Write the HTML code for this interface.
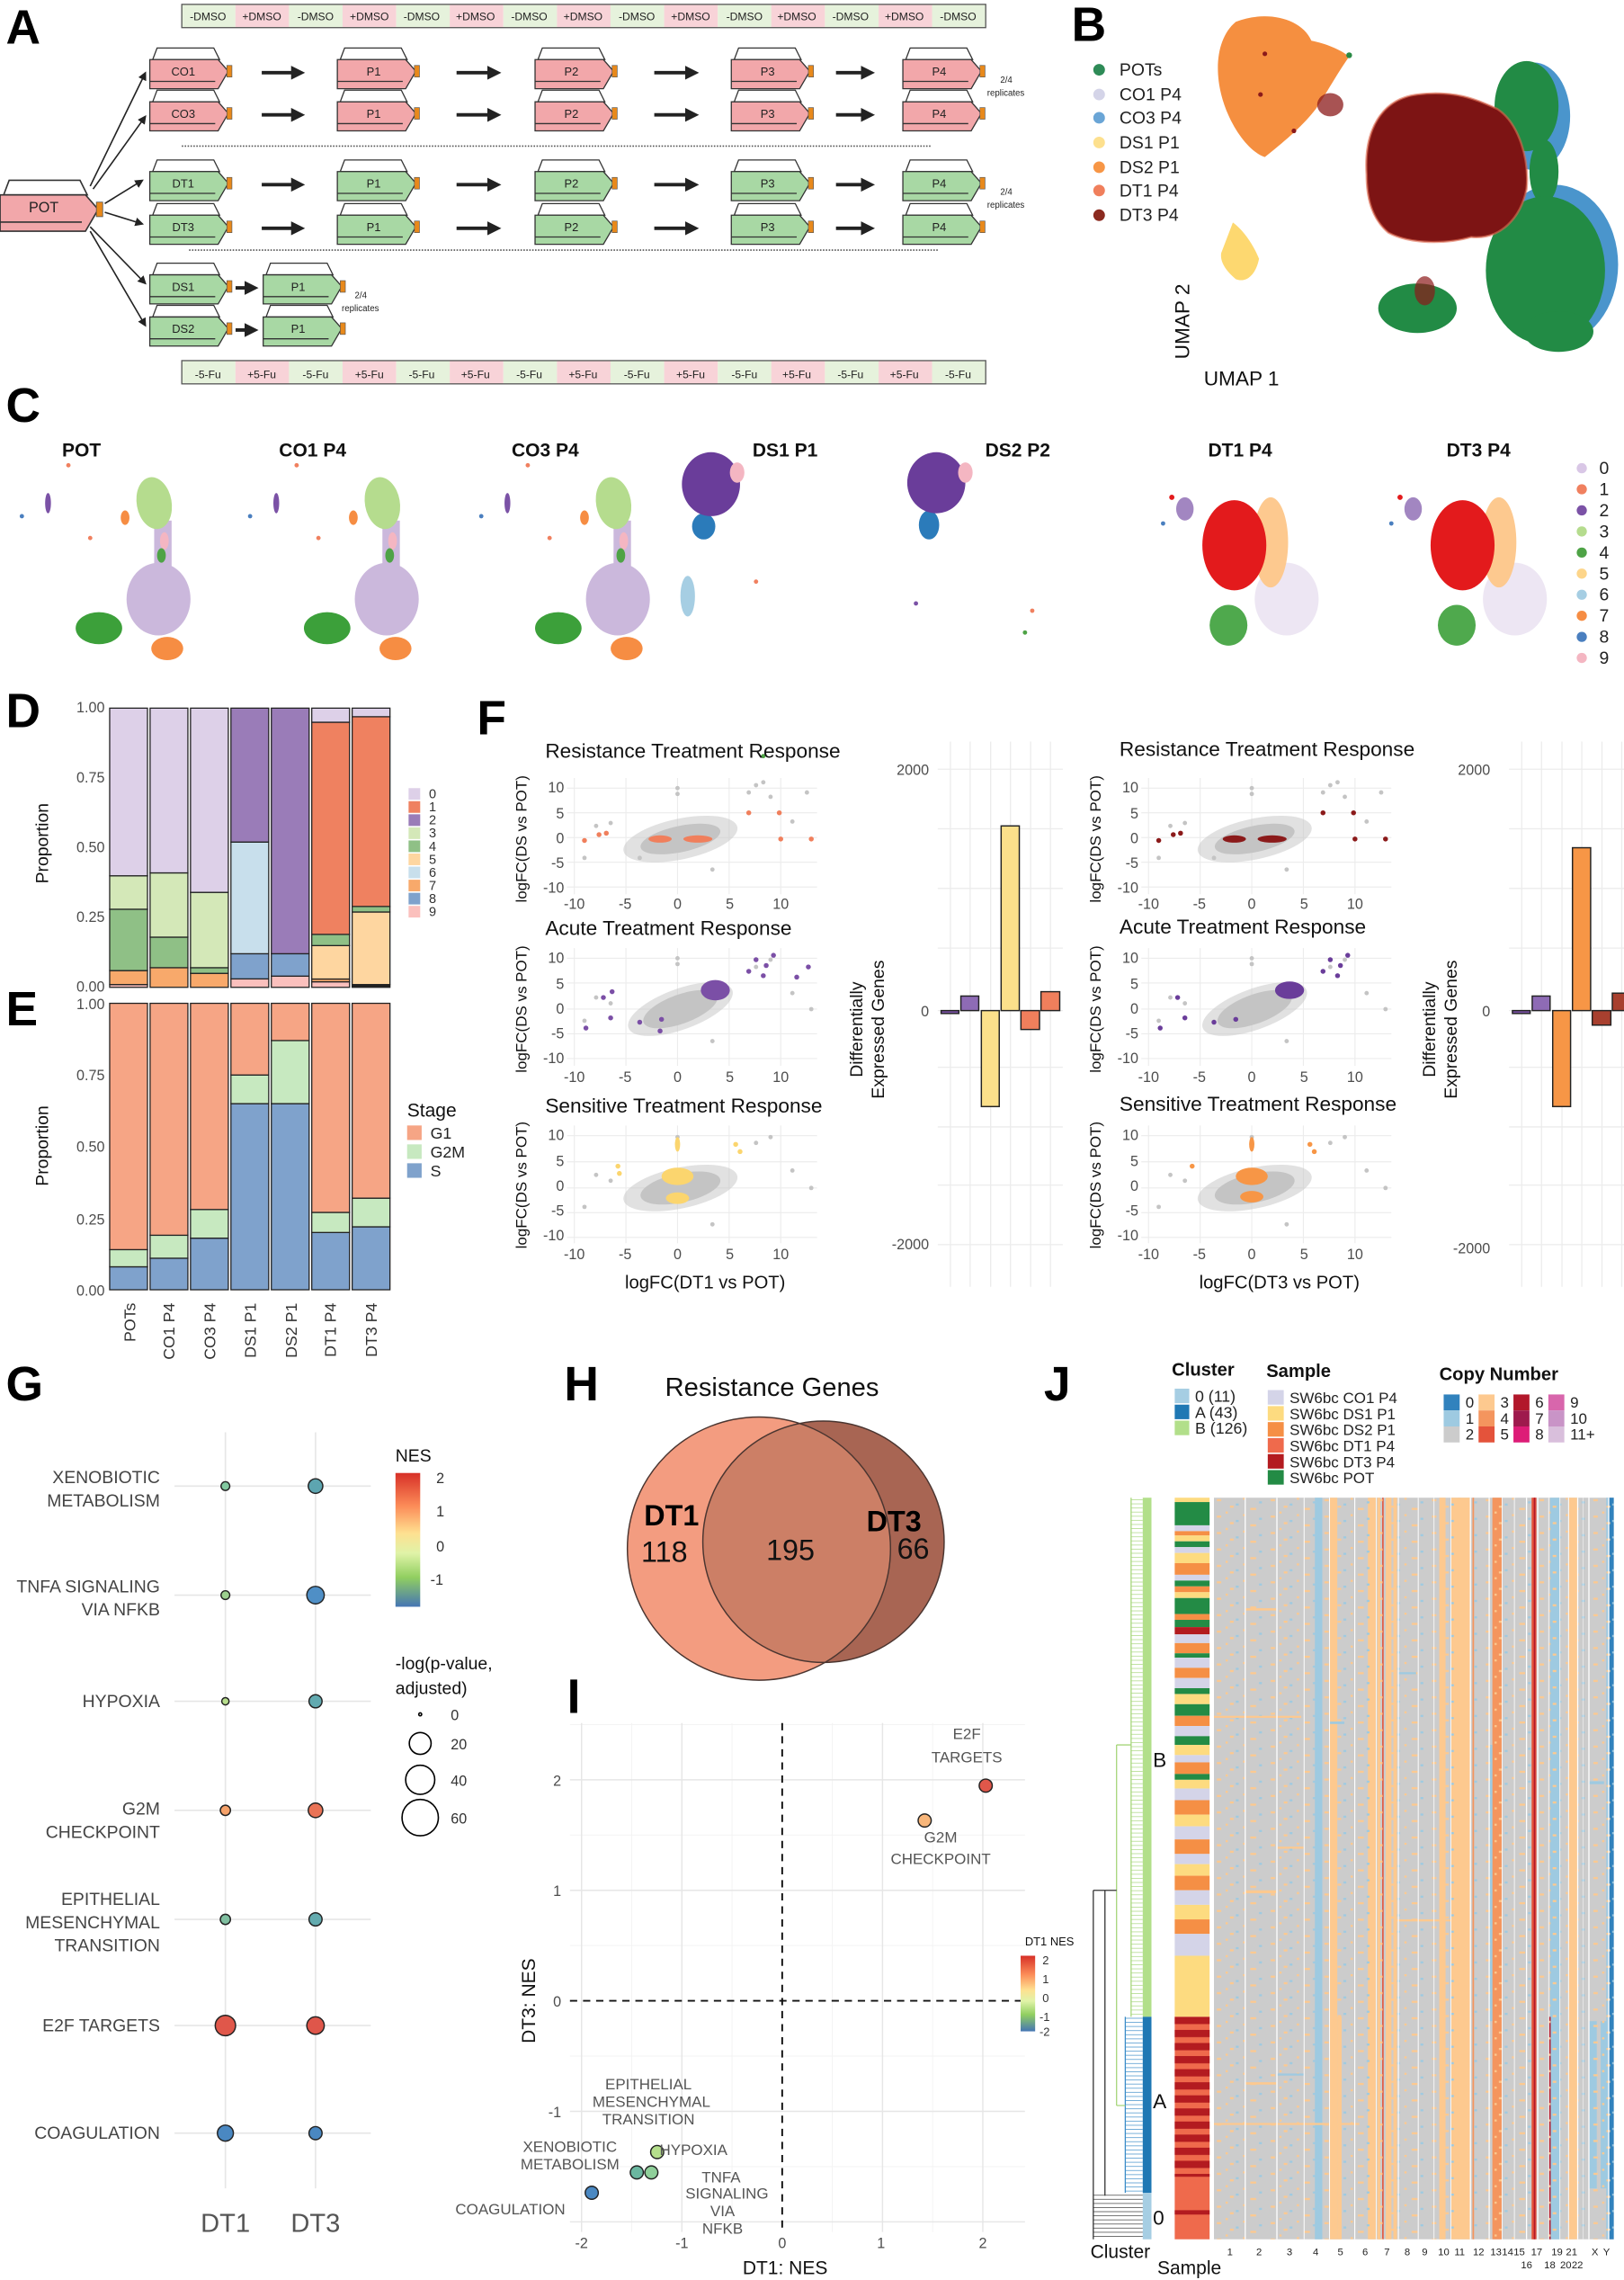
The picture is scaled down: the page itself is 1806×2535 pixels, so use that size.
<!DOCTYPE html>
<html><head><meta charset="utf-8">
<style>
html,body{margin:0;padding:0;background:#fff;}
svg{display:block;font-family:"Liberation Sans",Arial,sans-serif;}
.L{font-size:33px;font-weight:bold;fill:#000;}
.t{font-size:10px;fill:#4d4d4d;}
</style></head>
<body>
<svg xmlns="http://www.w3.org/2000/svg" xmlns:xlink="http://www.w3.org/1999/xlink" width="1806" height="2535" viewBox="0 0 1117 1568">
<defs>
<marker id="ah" markerWidth="6" markerHeight="6" refX="5" refY="3" orient="auto"><path d="M0,0 L6,3 L0,6 z" fill="#222"/></marker>
<marker id="ah2" markerWidth="4" markerHeight="4" refX="2" refY="2" orient="auto"><path d="M0,0 L4,2 L0,4 z" fill="#222"/></marker>
<linearGradient id="nes" x1="0" y1="0" x2="0" y2="1">
<stop offset="0" stop-color="#d73027"/><stop offset="0.25" stop-color="#fc8d59"/><stop offset="0.45" stop-color="#fee090"/><stop offset="0.6" stop-color="#e0f3a8"/><stop offset="0.78" stop-color="#91cf60"/><stop offset="1" stop-color="#4575b4"/></linearGradient>
<clipPath id="cl"><circle cx="522" cy="1065" r="90.5"/></clipPath>
<g id="fk">
<polygon points="2,8 5,0 44,0 48,8" fill="#fff" stroke="#333" stroke-width=".8"/>
<polygon points="0,8 47,8 54,16 47,28 0,28" stroke="#333" stroke-width=".8"/>
<line x1="0" y1="23" x2="45" y2="23" stroke="#333" stroke-width=".8"/>
<rect x="53" y="12" width="3.5" height="8" fill="#e8891b" stroke="#555" stroke-width=".4"/>
</g>
<pattern id="sp" x="835" y="1030" width="37" height="11.3" patternUnits="userSpaceOnUse">
<rect x="2" y="1" width="3" height="1.4" fill="#fdc98f"/><rect x="15" y="4" width="2" height="1.4" fill="#9ecae1"/><rect x="25" y="7" width="4" height="1.4" fill="#fdc98f"/><rect x="8" y="9.5" width="1.5" height="1.4" fill="#fdc98f"/><rect x="31" y="2.5" width="2" height="1.4" fill="#9ecae1"/><rect x="20" y="0" width="1.5" height="1.4" fill="#fdc98f"/><rect x="11" y="5.5" width="2.5" height="1.4" fill="#fdc98f"/>
</pattern>
<pattern id="rs" x="808" y="1387" width="24" height="9" patternUnits="userSpaceOnUse"><rect width="24" height="5" fill="#b31b20"/></pattern>
<pattern id="lvG" x="0" y="1030" width="10" height="2.83" patternUnits="userSpaceOnUse"><line x1="0" y1="1.4" x2="10" y2="1.4" stroke="#a6d67a" stroke-width=".4"/></pattern>
<pattern id="lvB" x="0" y="1030" width="10" height="2.83" patternUnits="userSpaceOnUse"><line x1="0" y1="1.4" x2="10" y2="1.4" stroke="#3a8cc8" stroke-width=".4"/></pattern>
<pattern id="lvK" x="0" y="1030" width="40" height="2.83" patternUnits="userSpaceOnUse"><line x1="0" y1="1.4" x2="40" y2="1.4" stroke="#333" stroke-width=".4"/></pattern>
</defs>
<rect width="1117" height="1568" fill="#fff"/>

<!-- Panel A -->
<text class="L" x="4" y="30">A</text>
<g>
<rect x="125" y="3" width="36.9" height="16" fill="#e6f2dc"/><rect x="161.9" y="3" width="36.9" height="16" fill="#f8d3d8"/><rect x="198.7" y="3" width="36.9" height="16" fill="#e6f2dc"/><rect x="235.6" y="3" width="36.9" height="16" fill="#f8d3d8"/><rect x="272.5" y="3" width="36.9" height="16" fill="#e6f2dc"/><rect x="309.3" y="3" width="36.9" height="16" fill="#f8d3d8"/><rect x="346.2" y="3" width="36.9" height="16" fill="#e6f2dc"/><rect x="383.1" y="3" width="36.9" height="16" fill="#f8d3d8"/><rect x="419.9" y="3" width="36.9" height="16" fill="#e6f2dc"/><rect x="456.8" y="3" width="36.9" height="16" fill="#f8d3d8"/><rect x="493.7" y="3" width="36.9" height="16" fill="#e6f2dc"/><rect x="530.5" y="3" width="36.9" height="16" fill="#f8d3d8"/><rect x="567.4" y="3" width="36.9" height="16" fill="#e6f2dc"/><rect x="604.3" y="3" width="36.9" height="16" fill="#f8d3d8"/><rect x="641.1" y="3" width="36.9" height="16" fill="#e6f2dc"/>
<rect x="125" y="248" width="36.9" height="16" fill="#e6f2dc"/><rect x="161.9" y="248" width="36.9" height="16" fill="#f8d3d8"/><rect x="198.7" y="248" width="36.9" height="16" fill="#e6f2dc"/><rect x="235.6" y="248" width="36.9" height="16" fill="#f8d3d8"/><rect x="272.5" y="248" width="36.9" height="16" fill="#e6f2dc"/><rect x="309.3" y="248" width="36.9" height="16" fill="#f8d3d8"/><rect x="346.2" y="248" width="36.9" height="16" fill="#e6f2dc"/><rect x="383.1" y="248" width="36.9" height="16" fill="#f8d3d8"/><rect x="419.9" y="248" width="36.9" height="16" fill="#e6f2dc"/><rect x="456.8" y="248" width="36.9" height="16" fill="#f8d3d8"/><rect x="493.7" y="248" width="36.9" height="16" fill="#e6f2dc"/><rect x="530.5" y="248" width="36.9" height="16" fill="#f8d3d8"/><rect x="567.4" y="248" width="36.9" height="16" fill="#e6f2dc"/><rect x="604.3" y="248" width="36.9" height="16" fill="#f8d3d8"/><rect x="641.1" y="248" width="36.9" height="16" fill="#e6f2dc"/>
<rect x="125" y="3" width="553" height="16" fill="none" stroke="#555" stroke-width=".8"/><rect x="125" y="248" width="553" height="16" fill="none" stroke="#555" stroke-width=".8"/>
</g>
<g>
<use href="#fk" x="103" y="33" fill="#f2a7aa"/><use href="#fk" x="232" y="33" fill="#f2a7aa"/><use href="#fk" x="368" y="33" fill="#f2a7aa"/><use href="#fk" x="503" y="33" fill="#f2a7aa"/><use href="#fk" x="621" y="33" fill="#f2a7aa"/>
<use href="#fk" x="103" y="62" fill="#f2a7aa"/><use href="#fk" x="232" y="62" fill="#f2a7aa"/><use href="#fk" x="368" y="62" fill="#f2a7aa"/><use href="#fk" x="503" y="62" fill="#f2a7aa"/><use href="#fk" x="621" y="62" fill="#f2a7aa"/>
<use href="#fk" x="103" y="110" fill="#a8d8a4"/><use href="#fk" x="232" y="110" fill="#a8d8a4"/><use href="#fk" x="368" y="110" fill="#a8d8a4"/><use href="#fk" x="503" y="110" fill="#a8d8a4"/><use href="#fk" x="621" y="110" fill="#a8d8a4"/>
<use href="#fk" x="103" y="140" fill="#a8d8a4"/><use href="#fk" x="232" y="140" fill="#a8d8a4"/><use href="#fk" x="368" y="140" fill="#a8d8a4"/><use href="#fk" x="503" y="140" fill="#a8d8a4"/><use href="#fk" x="621" y="140" fill="#a8d8a4"/>
<use href="#fk" x="103" y="181" fill="#a8d8a4"/><use href="#fk" x="181" y="181" fill="#a8d8a4"/>
<use href="#fk" x="103" y="210" fill="#a8d8a4"/><use href="#fk" x="181" y="210" fill="#a8d8a4"/>
<use href="#fk" transform="translate(0 124) scale(1.25)" fill="#f2a7aa"/>
</g>
<g stroke="#222" stroke-width="2.4" marker-end="url(#ah2)">
<line x1="180" y1="50" x2="205" y2="50"/><line x1="314" y1="50" x2="340" y2="50"/><line x1="450" y1="50" x2="476" y2="50"/><line x1="575" y1="50" x2="597" y2="50"/>
<line x1="180" y1="79" x2="205" y2="79"/><line x1="314" y1="79" x2="340" y2="79"/><line x1="450" y1="79" x2="476" y2="79"/><line x1="575" y1="79" x2="597" y2="79"/>
<line x1="180" y1="127" x2="205" y2="127"/><line x1="314" y1="127" x2="340" y2="127"/><line x1="450" y1="127" x2="476" y2="127"/><line x1="575" y1="127" x2="597" y2="127"/>
<line x1="180" y1="157" x2="205" y2="157"/><line x1="314" y1="157" x2="340" y2="157"/><line x1="450" y1="157" x2="476" y2="157"/><line x1="575" y1="157" x2="597" y2="157"/>
<line x1="162" y1="198" x2="173" y2="198"/><line x1="162" y1="227" x2="173" y2="227"/>
</g>
<g stroke="#222" stroke-width="1" marker-end="url(#ah)">
<line x1="62" y1="128" x2="100" y2="50"/><line x1="64" y1="130" x2="100" y2="80"/><line x1="72" y1="140" x2="98" y2="124"/><line x1="72" y1="146" x2="98" y2="154"/><line x1="62" y1="156" x2="100" y2="195"/><line x1="62" y1="159" x2="100" y2="224"/>
</g>
<g font-size="8" fill="#222" text-anchor="middle">
<text x="126" y="52">CO1</text><text x="257" y="52">P1</text><text x="393" y="52">P2</text><text x="528" y="52">P3</text><text x="646" y="52">P4</text>
<text x="126" y="81">CO3</text><text x="257" y="81">P1</text><text x="393" y="81">P2</text><text x="528" y="81">P3</text><text x="646" y="81">P4</text>
<text x="126" y="129">DT1</text><text x="257" y="129">P1</text><text x="393" y="129">P2</text><text x="528" y="129">P3</text><text x="646" y="129">P4</text>
<text x="126" y="159">DT3</text><text x="257" y="159">P1</text><text x="393" y="159">P2</text><text x="528" y="159">P3</text><text x="646" y="159">P4</text>
<text x="126" y="200">DS1</text><text x="205" y="200">P1</text>
<text x="126" y="229">DS2</text><text x="205" y="229">P1</text>
<text x="30" y="146" font-size="10">POT</text>
</g>
<g font-size="6" fill="#222">
<text x="688" y="57">2/4</text><text x="679" y="66">replicates</text>
<text x="688" y="134">2/4</text><text x="679" y="143">replicates</text>
<text x="244" y="205">2/4</text><text x="235" y="214">replicates</text>
</g>
<g font-size="7.5" fill="#222" text-anchor="middle">
<text x="143" y="14">-DMSO</text><text x="180" y="14">+DMSO</text><text x="217" y="14">-DMSO</text><text x="254" y="14">+DMSO</text><text x="290" y="14">-DMSO</text><text x="327" y="14">+DMSO</text><text x="364" y="14">-DMSO</text><text x="401" y="14">+DMSO</text><text x="438" y="14">-DMSO</text><text x="475" y="14">+DMSO</text><text x="512" y="14">-DMSO</text><text x="548" y="14">+DMSO</text><text x="585" y="14">-DMSO</text><text x="622" y="14">+DMSO</text><text x="659" y="14">-DMSO</text>
<text x="143" y="260">-5-Fu</text><text x="180" y="260">+5-Fu</text><text x="217" y="260">-5-Fu</text><text x="254" y="260">+5-Fu</text><text x="290" y="260">-5-Fu</text><text x="327" y="260">+5-Fu</text><text x="364" y="260">-5-Fu</text><text x="401" y="260">+5-Fu</text><text x="438" y="260">-5-Fu</text><text x="475" y="260">+5-Fu</text><text x="512" y="260">-5-Fu</text><text x="548" y="260">+5-Fu</text><text x="585" y="260">-5-Fu</text><text x="622" y="260">+5-Fu</text><text x="659" y="260">-5-Fu</text>
</g>
<line x1="125" y1="100.5" x2="640" y2="100.5" stroke="#555" stroke-width="1" stroke-dasharray="1,1"/>
<line x1="130" y1="172" x2="646" y2="172" stroke="#555" stroke-width="1" stroke-dasharray="1,1"/>

<!-- Panel B -->
<text class="L" x="737" y="28">B</text>
<g>
<ellipse cx="1069" cy="182" rx="44" ry="55" fill="#4a95cc"/>
<ellipse cx="1055" cy="80" rx="25" ry="37" fill="#4a95cc"/>
<ellipse cx="1050" cy="73" rx="22" ry="31" fill="#228b45"/>
<ellipse cx="1062" cy="118" rx="10" ry="22" fill="#228b45"/>
<ellipse cx="1063" cy="186" rx="41" ry="51" fill="#228b45"/>
<ellipse cx="1072" cy="228" rx="24" ry="14" fill="#228b45"/>
<ellipse cx="975" cy="212" rx="27" ry="17" fill="#228b45"/>
<path d="M940,120 C938,90 950,68 975,65 C1000,62 1015,68 1030,75 C1045,85 1052,110 1050,130 C1046,150 1032,165 1012,163 C995,168 970,168 955,160 C943,150 940,135 940,120 Z" fill="#7d1414" stroke="#e06a50" stroke-width="1.5" stroke-opacity=".6"/>
<ellipse cx="980" cy="200" rx="7" ry="10" fill="#8b1a1a" fill-opacity=".7"/>
<path d="M850,15 C870,7 895,12 902,28 C912,30 922,34 928,39 C920,50 912,65 905,75 C895,88 880,100 870,108 C858,104 845,85 840,65 C835,45 838,25 850,15 Z" fill="#f58f40"/>
<ellipse cx="915" cy="72" rx="9" ry="8" fill="#8b1a1a" fill-opacity=".75"/>
<circle cx="870" cy="37" r="1.6" fill="#8b1a1a"/><circle cx="867" cy="65" r="1.6" fill="#8b1a1a"/><circle cx="890" cy="90" r="1.6" fill="#8b1a1a"/><circle cx="928" cy="38" r="2" fill="#2a8a45"/>
<path d="M848,153 C855,158 862,168 866,178 C864,188 858,195 850,192 C843,186 839,180 840,174 Z" fill="#fdd870"/>
</g>
<g font-size="12" fill="#222">
<circle cx="756" cy="48" r="4" fill="#2e8b57"/><text x="770" y="52">POTs</text>
<circle cx="756" cy="65" r="4" fill="#d4d4e8"/><text x="770" y="69">CO1 P4</text>
<circle cx="756" cy="81" r="4" fill="#6aa5d6"/><text x="770" y="85">CO3 P4</text>
<circle cx="756" cy="98" r="4" fill="#fde08e"/><text x="770" y="102">DS1 P1</text>
<circle cx="756" cy="115" r="4" fill="#f79646"/><text x="770" y="119">DS2 P1</text>
<circle cx="756" cy="131" r="4" fill="#f07f5c"/><text x="770" y="135">DT1 P4</text>
<circle cx="756" cy="148" r="4" fill="#8b2a1f"/><text x="770" y="152">DT3 P4</text>
</g>
<text x="818" y="247" font-size="14" transform="rotate(-90 818 247)" fill="#111">UMAP 2</text>
<text x="828" y="265" font-size="14" fill="#111">UMAP 1</text>

<!-- Panel C -->
<text class="L" x="4" y="290">C</text>
<g font-size="13" font-weight="bold" fill="#111" text-anchor="middle">
<text x="56" y="314">POT</text><text x="215" y="314">CO1 P4</text><text x="375" y="314">CO3 P4</text><text x="540" y="314">DS1 P1</text><text x="700" y="314">DS2 P2</text><text x="853" y="314">DT1 P4</text><text x="1017" y="314">DT3 P4</text>
</g>
<g id="cpot">
<ellipse cx="115" cy="446" rx="11" ry="8" fill="#f68d43"/>
<ellipse cx="68" cy="432" rx="16" ry="11" fill="#3ca03a"/>
<rect x="106" y="358" width="12" height="34" fill="#cbb8dc"/>
<ellipse cx="109" cy="412" rx="22" ry="25" fill="#cbb8dc"/>
<ellipse cx="106" cy="346" rx="12" ry="18" fill="#b5dc8e" transform="rotate(-10 106 346)"/>
<ellipse cx="86" cy="356" rx="3" ry="5" fill="#f68d43"/>
<ellipse cx="113" cy="372" rx="3" ry="6" fill="#f4b6c2"/>
<ellipse cx="111" cy="382" rx="3" ry="5" fill="#4ea346"/>
<ellipse cx="33" cy="346" rx="2" ry="7" fill="#7b52a6"/>
<circle cx="47" cy="320" r="1.5" fill="#f0805f"/><circle cx="15" cy="355" r="1.5" fill="#4a7fbf"/><circle cx="62" cy="370" r="1.5" fill="#f0805f"/>
</g>
<use href="#cpot" x="157"/>
<use href="#cpot" x="316"/>
<g>
<ellipse cx="473" cy="410" rx="5" ry="14" fill="#a6cee3"/>
<ellipse cx="484" cy="362" rx="8" ry="9" fill="#2b7bba"/>
<ellipse cx="489" cy="333" rx="20" ry="22" fill="#6a3d9a"/>
<ellipse cx="507" cy="325" rx="5" ry="7" fill="#f4b6c2"/>
<circle cx="520" cy="400" r="1.5" fill="#f0805f"/><circle cx="525" cy="520" r="1.5" fill="#4ea346"/>
<ellipse cx="639" cy="361" rx="7" ry="10" fill="#2b7bba"/>
<ellipse cx="644" cy="332" rx="20" ry="21" fill="#6a3d9a"/>
<ellipse cx="664" cy="325" rx="5" ry="7" fill="#f4b6c2"/>
<circle cx="630" cy="415" r="1.5" fill="#7b52a6"/><circle cx="710" cy="420" r="1.5" fill="#f0805f"/><circle cx="705" cy="435" r="1.5" fill="#4ea346"/>
</g>
<g id="cdt">
<ellipse cx="885" cy="412" rx="22" ry="25" fill="#cbb8dc" fill-opacity=".35"/>
<ellipse cx="845" cy="430" rx="13" ry="14" fill="#3ca03a" fill-opacity=".9"/>
<ellipse cx="874" cy="373" rx="12" ry="31" fill="#fdc98f"/>
<ellipse cx="849" cy="375" rx="22" ry="31" fill="#e31a1c"/>
<ellipse cx="815" cy="350" rx="6" ry="8" fill="#7b52a6" fill-opacity=".7"/>
<circle cx="806" cy="342" r="1.8" fill="#e31a1c"/><circle cx="800" cy="360" r="1.5" fill="#4a7fbf"/>
</g>
<use href="#cdt" x="157"/>
<g font-size="12" fill="#222">
<circle cx="1088" cy="322" r="3.5" fill="#d9c7e6"/><text x="1100" y="326">0</text>
<circle cx="1088" cy="336.5" r="3.5" fill="#f0805f"/><text x="1100" y="340.5">1</text>
<circle cx="1088" cy="351" r="3.5" fill="#7b52a6"/><text x="1100" y="355">2</text>
<circle cx="1088" cy="365.5" r="3.5" fill="#b5dc8e"/><text x="1100" y="369.5">3</text>
<circle cx="1088" cy="380" r="3.5" fill="#4ea346"/><text x="1100" y="384">4</text>
<circle cx="1088" cy="394.5" r="3.5" fill="#fdd58a"/><text x="1100" y="398.5">5</text>
<circle cx="1088" cy="409" r="3.5" fill="#a6cee3"/><text x="1100" y="413">6</text>
<circle cx="1088" cy="423.5" r="3.5" fill="#f68d43"/><text x="1100" y="427.5">7</text>
<circle cx="1088" cy="438" r="3.5" fill="#4a7fbf"/><text x="1100" y="442">8</text>
<circle cx="1088" cy="452.5" r="3.5" fill="#f4b6c2"/><text x="1100" y="456.5">9</text>
</g>

<!-- Panel D -->
<text class="L" x="4" y="500">D</text>
<g stroke="#222" stroke-width=".8">
<rect x="75.4" y="677.1" width="26" height="1.9" fill="#fbc0bd"/><rect x="75.4" y="667.5" width="26" height="9.6" fill="#f8a96b"/><rect x="75.4" y="625.3" width="26" height="42.2" fill="#8fc086"/><rect x="75.4" y="602.3" width="26" height="23" fill="#d4e8b8"/><rect x="75.4" y="487" width="26" height="115.3" fill="#ddd0e8"/>
<rect x="103.2" y="665.5" width="26" height="13.5" fill="#f8a96b"/><rect x="103.2" y="644.5" width="26" height="21" fill="#8fc086"/><rect x="103.2" y="600.3" width="26" height="44.2" fill="#d4e8b8"/><rect x="103.2" y="487" width="26" height="113.3" fill="#ddd0e8"/>
<rect x="131" y="669.4" width="26" height="9.6" fill="#f8a96b"/><rect x="131" y="665.5" width="26" height="3.9" fill="#8fc086"/><rect x="131" y="613.7" width="26" height="51.8" fill="#d4e8b8"/><rect x="131" y="487" width="26" height="126.7" fill="#ddd0e8"/>
<rect x="158.8" y="673.2" width="26" height="5.8" fill="#fbc0bd"/><rect x="158.8" y="655.9" width="26" height="17.3" fill="#7fa2cc"/><rect x="158.8" y="579.1" width="26" height="76.8" fill="#c8dfec"/><rect x="158.8" y="487" width="26" height="92.1" fill="#9a7cb8"/>
<rect x="186.6" y="671.3" width="26" height="7.7" fill="#fbc0bd"/><rect x="186.6" y="655.9" width="26" height="15.4" fill="#7fa2cc"/><rect x="186.6" y="487" width="26" height="168.9" fill="#9a7cb8"/>
<rect x="214.4" y="675.2" width="26" height="3.8" fill="#fbc0bd"/><rect x="214.4" y="673.3" width="26" height="1.9" fill="#f8a96b"/><rect x="214.4" y="650.3" width="26" height="23" fill="#fed6a0"/><rect x="214.4" y="642.6" width="26" height="7.7" fill="#8fc086"/><rect x="214.4" y="496.7" width="26" height="145.9" fill="#ef8160"/><rect x="214.4" y="487" width="26" height="9.7" fill="#ddd0e8"/>
<rect x="242.2" y="677.1" width="26" height="1.9" fill="#222"/><rect x="242.2" y="627.2" width="26" height="49.9" fill="#fed6a0"/><rect x="242.2" y="623.4" width="26" height="3.8" fill="#8fc086"/><rect x="242.2" y="492.9" width="26" height="130.5" fill="#ef8160"/><rect x="242.2" y="487" width="26" height="5.9" fill="#ddd0e8"/>
</g>
<g class="t" text-anchor="end">
<text x="72" y="490">1.00</text><text x="72" y="538">0.75</text><text x="72" y="586">0.50</text><text x="72" y="634">0.25</text><text x="72" y="682">0.00</text>
</g>
<text x="33" y="580" font-size="12" text-anchor="middle" transform="rotate(-90 33 580)" fill="#111">Proportion</text>
<g font-size="9" fill="#333">
<rect x="281" y="542" width="8" height="8" fill="#ddd0e8"/><text x="295" y="549">0</text>
<rect x="281" y="551" width="8" height="8" fill="#ef8160"/><text x="295" y="558">1</text>
<rect x="281" y="560" width="8" height="8" fill="#9a7cb8"/><text x="295" y="567">2</text>
<rect x="281" y="569" width="8" height="8" fill="#d4e8b8"/><text x="295" y="576">3</text>
<rect x="281" y="578" width="8" height="8" fill="#8fc086"/><text x="295" y="585">4</text>
<rect x="281" y="587" width="8" height="8" fill="#fed6a0"/><text x="295" y="594">5</text>
<rect x="281" y="596" width="8" height="8" fill="#c8dfec"/><text x="295" y="603">6</text>
<rect x="281" y="605" width="8" height="8" fill="#f8a96b"/><text x="295" y="612">7</text>
<rect x="281" y="614" width="8" height="8" fill="#7fa2cc"/><text x="295" y="621">8</text>
<rect x="281" y="623" width="8" height="8" fill="#fbc0bd"/><text x="295" y="630">9</text>
</g>

<!-- Panel E -->
<text class="L" x="4" y="705">E</text>
<g stroke="#222" stroke-width=".8">
<rect x="75.4" y="871.2" width="26" height="15.8" fill="#7fa2cc"/><rect x="75.4" y="859.4" width="26" height="11.8" fill="#c7e9c0"/><rect x="75.4" y="690" width="26" height="169.4" fill="#f6a585"/>
<rect x="103.2" y="865.3" width="26" height="21.7" fill="#7fa2cc"/><rect x="103.2" y="849.5" width="26" height="15.8" fill="#c7e9c0"/><rect x="103.2" y="690" width="26" height="159.5" fill="#f6a585"/>
<rect x="131" y="851.5" width="26" height="35.5" fill="#7fa2cc"/><rect x="131" y="831.8" width="26" height="19.7" fill="#c7e9c0"/><rect x="131" y="690" width="26" height="141.8" fill="#f6a585"/>
<rect x="158.8" y="759" width="26" height="128" fill="#7fa2cc"/><rect x="158.8" y="739.3" width="26" height="19.7" fill="#c7e9c0"/><rect x="158.8" y="690" width="26" height="49.3" fill="#f6a585"/>
<rect x="186.6" y="759" width="26" height="128" fill="#7fa2cc"/><rect x="186.6" y="715.6" width="26" height="43.4" fill="#c7e9c0"/><rect x="186.6" y="690" width="26" height="25.6" fill="#f6a585"/>
<rect x="214.4" y="847.6" width="26" height="39.4" fill="#7fa2cc"/><rect x="214.4" y="833.8" width="26" height="13.8" fill="#c7e9c0"/><rect x="214.4" y="690" width="26" height="143.8" fill="#f6a585"/>
<rect x="242.2" y="843.7" width="26" height="43.3" fill="#7fa2cc"/><rect x="242.2" y="824" width="26" height="19.7" fill="#c7e9c0"/><rect x="242.2" y="690" width="26" height="134" fill="#f6a585"/>
</g>
<g class="t" text-anchor="end">
<text x="72" y="694">1.00</text><text x="72" y="743">0.75</text><text x="72" y="792">0.50</text><text x="72" y="842">0.25</text><text x="72" y="891">0.00</text>
</g>
<text x="33" y="788" font-size="12" text-anchor="middle" transform="rotate(-90 33 788)" fill="#111">Proportion</text>
<text x="280" y="768" font-size="13" fill="#111">Stage</text>
<g font-size="11" fill="#222">
<rect x="280" y="774" width="10" height="10" fill="#f6a585"/><text x="296" y="783">G1</text>
<rect x="280" y="787" width="10" height="10" fill="#c7e9c0"/><text x="296" y="796">G2M</text>
<rect x="280" y="800" width="10" height="10" fill="#7fa2cc"/><text x="296" y="809">S</text>
</g>
<g font-size="11" fill="#333" text-anchor="end">
<text x="93" y="896" transform="rotate(-90 93 896)">POTs</text>
<text x="120" y="896" transform="rotate(-90 120 896)">CO1 P4</text>
<text x="148" y="896" transform="rotate(-90 148 896)">CO3 P4</text>
<text x="176" y="896" transform="rotate(-90 176 896)">DS1 P1</text>
<text x="204" y="896" transform="rotate(-90 204 896)">DS2 P1</text>
<text x="231" y="896" transform="rotate(-90 231 896)">DT1 P4</text>
<text x="259" y="896" transform="rotate(-90 259 896)">DT3 P4</text>
</g>

<!-- Panel F -->
<text class="L" x="328" y="505">F</text>
<g id="fgrid" stroke="#ececec" stroke-width=".7" fill="none">
<path d="M395,535V615M430.5,535V615M466,535V615M501.5,535V615M537,535V615M390,542H562M390,559H562M390,576H562M390,593H562M390,610H562"/>
<path d="M395,652V733M430.5,652V733M466,652V733M501.5,652V733M537,652V733M390,659H562M390,676H562M390,694H562M390,711H562M390,728H562"/>
<path d="M395,774V855M430.5,774V855M466,774V855M501.5,774V855M537,774V855M390,781H562M390,799H562M390,817H562M390,834H562M390,851H562"/>
</g>
<use href="#fgrid" x="395"/>
<g id="fgrey" fill="#c4c4c4">
<ellipse cx="468" cy="577" rx="40" ry="14" transform="rotate(-12 468 577)" fill-opacity=".5"/>
<ellipse cx="468" cy="577" rx="28" ry="9" transform="rotate(-12 468 577)"/>
<circle cx="466" cy="542" r="1.5"/><circle cx="466" cy="546" r="1.5"/><circle cx="515" cy="545" r="1.5"/><circle cx="520" cy="540" r="1.5"/><circle cx="530" cy="548" r="1.5"/><circle cx="525" cy="538" r="1.5"/><circle cx="410" cy="568" r="1.5"/><circle cx="420" cy="566" r="1.5"/><circle cx="402" cy="590" r="1.5"/><circle cx="440" cy="590" r="1.5"/><circle cx="490" cy="598" r="1.5"/><circle cx="555" cy="545" r="1.5"/><circle cx="545" cy="565" r="1.5"/>
<ellipse cx="468" cy="694" rx="38" ry="14" transform="rotate(-20 468 694)" fill-opacity=".5"/>
<ellipse cx="468" cy="694" rx="27" ry="10" transform="rotate(-20 468 694)"/>
<circle cx="466" cy="659" r="1.5"/><circle cx="466" cy="663" r="1.5"/><circle cx="520" cy="665" r="1.5"/><circle cx="530" cy="660" r="1.5"/><circle cx="410" cy="686" r="1.5"/><circle cx="420" cy="690" r="1.5"/><circle cx="402" cy="702" r="1.5"/><circle cx="490" cy="716" r="1.5"/><circle cx="545" cy="683" r="1.5"/><circle cx="558" cy="694" r="1.5"/>
<ellipse cx="468" cy="817" rx="40" ry="14" transform="rotate(-12 468 817)" fill-opacity=".5"/>
<ellipse cx="468" cy="817" rx="28" ry="10" transform="rotate(-12 468 817)"/>
<circle cx="466" cy="782" r="1.5"/><circle cx="520" cy="786" r="1.5"/><circle cx="530" cy="782" r="1.5"/><circle cx="410" cy="808" r="1.5"/><circle cx="420" cy="812" r="1.5"/><circle cx="402" cy="830" r="1.5"/><circle cx="545" cy="805" r="1.5"/><circle cx="558" cy="817" r="1.5"/><circle cx="490" cy="842" r="1.5"/>
</g>
<use href="#fgrey" x="395"/>
<g fill="#f07f5c">
<ellipse cx="454" cy="577" rx="8" ry="2.5"/><ellipse cx="480" cy="577" rx="10" ry="2.5"/>
<circle cx="402" cy="578" r="1.7"/><circle cx="412" cy="574" r="1.7"/><circle cx="417" cy="573" r="1.7"/><circle cx="515" cy="559" r="1.7"/><circle cx="536" cy="559" r="1.7"/><circle cx="537" cy="577" r="1.7"/><circle cx="558" cy="577" r="1.7"/>
</g>
<g fill="#8b1a1a">
<ellipse cx="849" cy="577" rx="8" ry="2.5"/><ellipse cx="875" cy="577" rx="10" ry="2.5"/>
<circle cx="797" cy="578" r="1.7"/><circle cx="807" cy="574" r="1.7"/><circle cx="812" cy="573" r="1.7"/><circle cx="910" cy="559" r="1.7"/><circle cx="931" cy="559" r="1.7"/><circle cx="932" cy="577" r="1.7"/><circle cx="953" cy="577" r="1.7"/>
</g>
<g fill="#7b4fa6">
<ellipse cx="492" cy="681" rx="10" ry="7"/>
<circle cx="515" cy="668" r="1.7"/><circle cx="520" cy="660" r="1.7"/><circle cx="527" cy="664" r="1.7"/><circle cx="532" cy="657" r="1.7"/><circle cx="525" cy="671" r="1.7"/><circle cx="548" cy="672" r="1.7"/><circle cx="556" cy="665" r="1.7"/>
<circle cx="403" cy="707" r="1.7"/><circle cx="420" cy="700" r="1.7"/><circle cx="440" cy="703" r="1.7"/><circle cx="455" cy="701" r="1.7"/><circle cx="454" cy="709" r="1.7"/><circle cx="415" cy="686" r="1.7"/><circle cx="421" cy="682" r="1.7"/>
</g>
<g fill="#6a3d9a">
<ellipse cx="887" cy="681" rx="10" ry="6"/>
<circle cx="910" cy="668" r="1.7"/><circle cx="915" cy="660" r="1.7"/><circle cx="922" cy="664" r="1.7"/><circle cx="927" cy="657" r="1.7"/><circle cx="920" cy="671" r="1.7"/>
<circle cx="798" cy="707" r="1.7"/><circle cx="815" cy="700" r="1.7"/><circle cx="835" cy="703" r="1.7"/><circle cx="850" cy="701" r="1.7"/><circle cx="810" cy="686" r="1.7"/>
</g>
<g fill="#fbd56e">
<ellipse cx="466" cy="809" rx="11" ry="6"/><ellipse cx="466" cy="824" rx="8" ry="4"/><ellipse cx="466" cy="787" rx="1.8" ry="5"/>
<circle cx="506" cy="787" r="1.7"/><circle cx="509" cy="792" r="1.7"/><circle cx="425" cy="802" r="1.7"/><circle cx="426" cy="807" r="1.7"/>
</g>
<g fill="#f79646">
<ellipse cx="861" cy="809" rx="11" ry="6"/><ellipse cx="861" cy="823" rx="8" ry="4"/><ellipse cx="861" cy="787" rx="1.8" ry="5"/>
<circle cx="901" cy="787" r="1.7"/><circle cx="904" cy="792" r="1.7"/><circle cx="820" cy="802" r="1.7"/>
</g>
<g font-size="14" fill="#111">
<text x="375" y="521">Resistance Treatment Response</text>
<text x="375" y="643">Acute Treatment Response</text>
<text x="375" y="765">Sensitive Treatment Response</text>
<text x="770" y="520">Resistance Treatment Response</text>
<text x="770" y="642">Acute Treatment Response</text>
<text x="770" y="764">Sensitive Treatment Response</text>
</g>
<g font-size="10.5" fill="#111" text-anchor="middle">
<text x="362" y="577" transform="rotate(-90 362 577)">logFC(DS vs POT)</text>
<text x="362" y="694" transform="rotate(-90 362 694)">logFC(DS vs POT)</text>
<text x="362" y="815" transform="rotate(-90 362 815)">logFC(DS vs POT)</text>
<text x="757" y="577" transform="rotate(-90 757 577)">logFC(DS vs POT)</text>
<text x="757" y="694" transform="rotate(-90 757 694)">logFC(DS vs POT)</text>
<text x="757" y="815" transform="rotate(-90 757 815)">logFC(DS vs POT)</text>
</g>
<g class="t" text-anchor="end">
<text x="388" y="545">10</text><text x="388" y="563">5</text><text x="388" y="580">0</text><text x="388" y="597">-5</text><text x="388" y="614">-10</text>
<text x="388" y="662">10</text><text x="388" y="680">5</text><text x="388" y="697">0</text><text x="388" y="714">-5</text><text x="388" y="731">-10</text>
<text x="388" y="784">10</text><text x="388" y="802">5</text><text x="388" y="819">0</text><text x="388" y="836">-5</text><text x="388" y="853">-10</text>
<text x="783" y="545">10</text><text x="783" y="563">5</text><text x="783" y="580">0</text><text x="783" y="597">-5</text><text x="783" y="614">-10</text>
<text x="783" y="662">10</text><text x="783" y="680">5</text><text x="783" y="697">0</text><text x="783" y="714">-5</text><text x="783" y="731">-10</text>
<text x="783" y="784">10</text><text x="783" y="802">5</text><text x="783" y="819">0</text><text x="783" y="836">-5</text><text x="783" y="853">-10</text>
</g>
<g class="t" text-anchor="middle">
<text x="395" y="625">-10</text><text x="430" y="625">-5</text><text x="466" y="625">0</text><text x="502" y="625">5</text><text x="537" y="625">10</text>
<text x="395" y="744">-10</text><text x="430" y="744">-5</text><text x="466" y="744">0</text><text x="502" y="744">5</text><text x="537" y="744">10</text>
<text x="395" y="866">-10</text><text x="430" y="866">-5</text><text x="466" y="866">0</text><text x="502" y="866">5</text><text x="537" y="866">10</text>
<text x="790" y="625">-10</text><text x="825" y="625">-5</text><text x="861" y="625">0</text><text x="897" y="625">5</text><text x="932" y="625">10</text>
<text x="790" y="744">-10</text><text x="825" y="744">-5</text><text x="861" y="744">0</text><text x="897" y="744">5</text><text x="932" y="744">10</text>
<text x="790" y="866">-10</text><text x="825" y="866">-5</text><text x="861" y="866">0</text><text x="897" y="866">5</text><text x="932" y="866">10</text>
</g>
<g font-size="12.5" fill="#111" text-anchor="middle">
<text x="485" y="886">logFC(DT1 vs POT)</text><text x="880" y="886">logFC(DT3 vs POT)</text>
</g>
<g id="fbg" stroke="#ececec" stroke-width=".8" fill="none">
<path d="M653.7,510V885M667.3,510V885M681.4,510V885M695,510V885M708.9,510V885M722.5,510V885M645,529H731M645,570H731M645,611H731M645,652H731M645,695H731M645,734H731M645,775H731M645,815H731M645,856H731"/>
</g>
<use href="#fbg" x="393"/>
<g stroke="#222" stroke-width=".9">
<rect x="647.3" y="695" width="12.2" height="2" fill="#7b52a6"/>
<rect x="660.9" y="685" width="12.3" height="10" fill="#8e6bb5"/>
<rect x="675" y="695" width="12.3" height="66" fill="#fbe08b"/>
<rect x="688.6" y="568" width="12.5" height="127" fill="#fbe08b"/>
<rect x="702.2" y="695" width="12.8" height="13" fill="#f07f5c"/>
<rect x="716" y="682" width="12.9" height="13" fill="#f07f5c"/>
<rect x="1040.3" y="695" width="12.2" height="2" fill="#7b52a6"/>
<rect x="1053.9" y="685" width="12.3" height="10" fill="#8e6bb5"/>
<rect x="1068" y="695" width="12.3" height="66" fill="#f79646"/>
<rect x="1081.6" y="583" width="12.5" height="112" fill="#f79646"/>
<rect x="1095.2" y="695" width="12.8" height="10" fill="#a8402f"/>
<rect x="1109" y="683" width="12.9" height="12" fill="#a8402f"/>
</g>
<g class="t" text-anchor="end">
<text x="639" y="533">2000</text><text x="639" y="699">0</text><text x="639" y="859">-2000</text>
<text x="1025" y="533">2000</text><text x="1025" y="699">0</text><text x="1025" y="862">-2000</text>
</g>
<g font-size="12" fill="#111" text-anchor="middle">
<text x="593" y="708" transform="rotate(-90 593 708)">Differentially</text>
<text x="608" y="708" transform="rotate(-90 608 708)">Expressed Genes</text>
<text x="987" y="708" transform="rotate(-90 987 708)">Differentially</text>
<text x="1002" y="708" transform="rotate(-90 1002 708)">Expressed Genes</text>
</g>

<!-- Panel G -->
<text class="L" x="4" y="963">G</text>
<g stroke="#e6e6e6" stroke-width="1">
<line x1="155" y1="985" x2="155" y2="1505"/><line x1="217" y1="985" x2="217" y2="1505"/>
<line x1="120" y1="1022" x2="255" y2="1022"/><line x1="120" y1="1097" x2="255" y2="1097"/><line x1="120" y1="1170" x2="255" y2="1170"/><line x1="120" y1="1245" x2="255" y2="1245"/><line x1="120" y1="1320" x2="255" y2="1320"/><line x1="120" y1="1393" x2="255" y2="1393"/><line x1="120" y1="1467" x2="255" y2="1467"/>
</g>
<g stroke="#222" stroke-width=".9">
<circle cx="155" cy="1022" r="3" fill="#82c9a0"/><circle cx="217" cy="1022" r="5" fill="#5da5b0"/>
<circle cx="155" cy="1097" r="3" fill="#9ccf8e"/><circle cx="217" cy="1097" r="6" fill="#4f8fc6"/>
<circle cx="155" cy="1170" r="2.5" fill="#b7de8c"/><circle cx="217" cy="1170" r="4.5" fill="#62aab0"/>
<circle cx="155" cy="1245" r="3.5" fill="#f6a26a"/><circle cx="217" cy="1245" r="5" fill="#ea7356"/>
<circle cx="155" cy="1320" r="3.5" fill="#7fbfa0"/><circle cx="217" cy="1320" r="4.5" fill="#63abaf"/>
<circle cx="155" cy="1393" r="7" fill="#e0574a"/><circle cx="217" cy="1393" r="6" fill="#df564a"/>
<circle cx="155" cy="1467" r="5.5" fill="#4a88c2"/><circle cx="217" cy="1467" r="4.5" fill="#4a88c2"/>
</g>
<g font-size="12" fill="#444" text-anchor="end">
<text x="110" y="1020">XENOBIOTIC</text><text x="110" y="1036">METABOLISM</text>
<text x="110" y="1095">TNFA SIGNALING</text><text x="110" y="1111">VIA NFKB</text>
<text x="110" y="1174">HYPOXIA</text>
<text x="110" y="1248">G2M</text><text x="110" y="1264">CHECKPOINT</text>
<text x="110" y="1310">EPITHELIAL</text><text x="110" y="1326">MESENCHYMAL</text><text x="110" y="1342">TRANSITION</text>
<text x="110" y="1397">E2F TARGETS</text>
<text x="110" y="1471">COAGULATION</text>
</g>
<g font-size="18" fill="#555" text-anchor="middle"><text x="155" y="1535">DT1</text><text x="217" y="1535">DT3</text></g>
<text x="272" y="1005" font-size="12" fill="#111">NES</text>
<rect x="272" y="1013" width="17" height="92" fill="url(#nes)"/>
<g font-size="10" fill="#333"><text x="300" y="1020">2</text><text x="300" y="1043">1</text><text x="300" y="1067">0</text><text x="296" y="1090">-1</text></g>
<text x="272" y="1148" font-size="12" fill="#111">-log(p-value,</text>
<text x="272" y="1165" font-size="12" fill="#111">adjusted)</text>
<g fill="none" stroke="#000" stroke-width="1">
<circle cx="289" cy="1179" r="1"/><circle cx="289" cy="1199" r="7.5"/><circle cx="289" cy="1224" r="10"/><circle cx="289" cy="1250" r="12.5"/></g>
<g font-size="10" fill="#333"><text x="310" y="1183">0</text><text x="310" y="1203">20</text><text x="310" y="1228">40</text><text x="310" y="1254">60</text></g>

<!-- Panel H -->
<text class="L" x="388" y="963">H</text>
<text x="531" y="960" font-size="18" fill="#111" text-anchor="middle">Resistance Genes</text>
<circle cx="522" cy="1065" r="90.5" fill="#f39c80"/>
<circle cx="566.4" cy="1060.3" r="83" fill="#a86553"/>
<circle cx="566.4" cy="1060.3" r="83" fill="#cc7f66" clip-path="url(#cl)"/>
<circle cx="522" cy="1065" r="90.5" fill="none" stroke="#4a3530" stroke-width=".9"/>
<circle cx="566.4" cy="1060.3" r="83" fill="none" stroke="#4a3530" stroke-width=".9"/>
<text x="443" y="1049" font-size="20" font-weight="bold" fill="#000">DT1</text>
<text x="441" y="1074" font-size="20" fill="#111">118</text>
<text x="527" y="1073" font-size="20" fill="#111">195</text>
<text x="596" y="1053" font-size="20" font-weight="bold" fill="#000">DT3</text>
<text x="617" y="1072" font-size="20" fill="#111">66</text>

<!-- Panel I -->
<text class="L" x="390" y="1178">I</text>
<g stroke="#f3f3f3" stroke-width=".6">
<path d="M434.5,1185V1535M503.5,1185V1535M572.5,1185V1535M641.5,1185V1535M392,1262H705M392,1338H705M392,1414H705M392,1490H705M392,1186H705"/>
</g>
<g stroke="#e6e6e6" stroke-width=".9">
<path d="M400,1185V1535M469,1185V1535M607,1185V1535M676,1185V1535M392,1224H705M392,1300H705M392,1452H705M392,1528H705"/>
</g>
<line x1="538" y1="1185" x2="538" y2="1535" stroke="#111" stroke-width="1.2" stroke-dasharray="5,4"/>
<line x1="392" y1="1376" x2="705" y2="1376" stroke="#111" stroke-width="1.2" stroke-dasharray="5,4"/>
<g stroke="#222" stroke-width=".9">
<circle cx="678" cy="1228" r="4.5" fill="#e0574a"/><circle cx="636" cy="1252" r="4.5" fill="#f8b67a"/>
<circle cx="438" cy="1494" r="4.5" fill="#6bb7a0"/><circle cx="448" cy="1494" r="4.5" fill="#8fcf9a"/><circle cx="452" cy="1480" r="4.5" fill="#b5de8c"/><circle cx="407" cy="1508" r="4.5" fill="#4a88c2"/>
</g>
<g class="t" text-anchor="end"><text x="386" y="1228">2</text><text x="386" y="1304">1</text><text x="386" y="1380">0</text><text x="386" y="1456">-1</text></g>
<g class="t" text-anchor="middle"><text x="400" y="1546">-2</text><text x="469" y="1546">-1</text><text x="538" y="1546">0</text><text x="606" y="1546">1</text><text x="676" y="1546">2</text></g>
<text x="368" y="1376" font-size="13" fill="#111" text-anchor="middle" transform="rotate(-90 368 1376)">DT3: NES</text>
<text x="540" y="1564" font-size="13" fill="#111" text-anchor="middle">DT1: NES</text>
<g font-size="10.5" fill="#555" text-anchor="middle">
<text x="665" y="1196">E2F</text><text x="665" y="1212">TARGETS</text>
<text x="647" y="1267">G2M</text><text x="647" y="1282">CHECKPOINT</text>
<text x="446" y="1437">EPITHELIAL</text><text x="448" y="1449">MESENCHYMAL</text><text x="446" y="1461">TRANSITION</text>
<text x="392" y="1480">XENOBIOTIC</text><text x="392" y="1492">METABOLISM</text>
<text x="477" y="1482">HYPOXIA</text>
<text x="496" y="1501">TNFA</text><text x="500" y="1512">SIGNALING</text><text x="497" y="1524">VIA</text><text x="497" y="1536">NFKB</text>
<text x="351" y="1523">COAGULATION</text>
</g>
<text x="705" y="1338" font-size="8" fill="#111">DT1 NES</text>
<rect x="702" y="1345" width="10" height="52" fill="url(#nes)"/>
<g font-size="8" fill="#333"><text x="717" y="1351">2</text><text x="717" y="1364">1</text><text x="717" y="1377">0</text><text x="715" y="1390">-1</text><text x="715" y="1400">-2</text></g>

<!-- Panel J -->
<text class="L" x="718" y="963">J</text>
<text x="806" y="946" font-size="12.5" font-weight="bold" fill="#111">Cluster</text>
<g font-size="11" fill="#222">
<rect x="808" y="955" width="10" height="10" fill="#a6cee3"/><text x="822" y="964">0 (11)</text>
<rect x="808" y="966" width="10" height="10" fill="#1f78b4"/><text x="822" y="975">A (43)</text>
<rect x="808" y="977" width="10" height="10" fill="#b2df8a"/><text x="822" y="986">B (126)</text>
</g>
<text x="871" y="947" font-size="12.5" font-weight="bold" fill="#111">Sample</text>
<g font-size="10.5" fill="#222">
<rect x="872" y="956" width="11" height="10" fill="#d4d4e8"/><text x="887" y="965">SW6bc CO1 P4</text>
<rect x="872" y="967" width="11" height="10" fill="#fddb80"/><text x="887" y="976">SW6bc DS1 P1</text>
<rect x="872" y="978" width="11" height="10" fill="#f58f45"/><text x="887" y="987">SW6bc DS2 P1</text>
<rect x="872" y="989" width="11" height="10" fill="#ef6a4c"/><text x="887" y="998">SW6bc DT1 P4</text>
<rect x="872" y="1000" width="11" height="10" fill="#b31b20"/><text x="887" y="1009">SW6bc DT3 P4</text>
<rect x="872" y="1011" width="11" height="10" fill="#238b45"/><text x="887" y="1020">SW6bc POT</text>
</g>
<text x="990" y="949" font-size="12.5" font-weight="bold" fill="#111">Copy Number</text>
<g font-size="10.5" fill="#222">
<rect x="993" y="959" width="11" height="11" fill="#3182bd"/><text x="1008" y="968">0</text>
<rect x="993" y="970" width="11" height="11" fill="#9ecae1"/><text x="1008" y="979">1</text>
<rect x="993" y="981" width="11" height="11" fill="#cccccc"/><text x="1008" y="990">2</text>
<rect x="1017" y="959" width="11" height="11" fill="#fdc98f"/><text x="1032" y="968">3</text>
<rect x="1017" y="970" width="11" height="11" fill="#f4955e"/><text x="1032" y="979">4</text>
<rect x="1017" y="981" width="11" height="11" fill="#e4533b"/><text x="1032" y="990">5</text>
<rect x="1041" y="959" width="11" height="11" fill="#b2182b"/><text x="1056" y="968">6</text>
<rect x="1041" y="970" width="11" height="11" fill="#9e1a4d"/><text x="1056" y="979">7</text>
<rect x="1041" y="981" width="11" height="11" fill="#dd1c77"/><text x="1056" y="990">8</text>
<rect x="1065" y="959" width="11" height="11" fill="#d866ac"/><text x="1080" y="968">9</text>
<rect x="1065" y="970" width="11" height="11" fill="#c994c7"/><text x="1080" y="979">10</text>
<rect x="1065" y="981" width="11" height="11" fill="#d9bfdc"/><text x="1080" y="990">11+</text>
</g>
<rect x="835" y="1030" width="275" height="510" fill="#cccccc"/>
<g>
<rect x="904.4" y="1030" width="5.1" height="510" fill="#9ecae1"/>
<rect x="914.7" y="1030" width="5.1" height="510" fill="#fdc98f"/>
<rect x="919.8" y="1387" width="3" height="153" fill="#fdc98f"/>
<rect x="940.9" y="1030" width="5.4" height="510" fill="#fdc98f"/>
<rect x="947.3" y="1030" width="2.1" height="510" fill="#fdc98f"/>
<rect x="950.7" y="1030" width="1" height="510" fill="#e4533b"/>
<rect x="953.2" y="1030" width="3.9" height="510" fill="#fdc98f"/>
<rect x="958.4" y="1030" width="2.5" height="510" fill="#fdc98f"/>
<rect x="990" y="1030" width="4.3" height="510" fill="#fdc98f"/>
<rect x="998.2" y="1030" width="12.8" height="510" fill="#fdc98f"/>
<rect x="1012.8" y="1030" width="1.1" height="510" fill="#f4955e"/>
<rect x="1026.5" y="1030" width="6.4" height="510" fill="#f4955e"/>
<rect x="1024.7" y="1200" width="1.8" height="190" fill="#9ecae1"/>
<rect x="1053.5" y="1030" width="3.3" height="510" fill="#e4533b"/>
<rect x="1055" y="1030" width="1" height="510" fill="#b2182b"/>
<rect x="1066.3" y="1030" width="6.4" height="510" fill="#9ecae1"/>
<rect x="1065.6" y="1387" width="1" height="153" fill="#b2182b"/>
<rect x="1079.2" y="1030" width="5.6" height="510" fill="#fdc98f"/>
<rect x="1093.3" y="1390" width="5" height="115" fill="#9ecae1"/>
<rect x="1101" y="1390" width="4" height="115" fill="#9ecae1"/>
<rect x="1104.9" y="1030" width="1.5" height="510" fill="#9ecae1"/>
<rect x="1106.9" y="1030" width="3.1" height="510" fill="#3182bd"/>
</g>
<rect x="835" y="1030" width="275" height="510" fill="url(#sp)"/>
<g fill="#fdc98f">
<rect x="856.8" y="1106" width="21" height="1.6"/><rect x="835" y="1180" width="60" height="1.4"/><rect x="856.8" y="1300" width="21" height="2"/><rect x="835" y="1460" width="100" height="1.4"/><rect x="856.8" y="1432" width="21" height="1.6"/><rect x="960" y="1320" width="40" height="1.4"/><rect x="878.7" y="1270" width="18" height="1.4"/>
</g>
<g fill="#9ecae1"><rect x="914.7" y="1184" width="10" height="1.6"/><rect x="878.7" y="1426" width="18" height="1.4"/><rect x="962" y="1150" width="12" height="1.4"/><rect x="1093.3" y="1225" width="10" height="2"/></g>
<g fill="#fff">
<rect x="856.1" y="1030" width=".8" height="510"/><rect x="877.9" y="1030" width=".8" height="510"/><rect x="896.7" y="1030" width=".6" height="510"/><rect x="914.2" y="1030" width=".6" height="510"/><rect x="931.5" y="1030" width=".7" height="510"/><rect x="946.3" y="1030" width=".5" height="510"/><rect x="961.5" y="1030" width=".7" height="510"/><rect x="975.2" y="1030" width=".6" height="510"/><rect x="986.1" y="1030" width=".5" height="510"/><rect x="997.7" y="1030" width=".5" height="510"/><rect x="1011" y="1030" width=".8" height="510"/><rect x="1023.9" y="1030" width=".8" height="510"/><rect x="1032.9" y="1030" width=".5" height="510"/><rect x="1041.4" y="1030" width=".5" height="510"/><rect x="1049.6" y="1030" width=".8" height="510"/><rect x="1057.3" y="1030" width=".8" height="510"/><rect x="1065" y="1030" width=".5" height="510"/><rect x="1072.7" y="1030" width=".5" height="510"/><rect x="1078.6" y="1030" width=".6" height="510"/><rect x="1084.8" y="1030" width=".8" height="510"/><rect x="1088.7" y="1030" width=".3" height="510"/><rect x="1092.5" y="1030" width=".8" height="510"/><rect x="1106.1" y="1030" width=".8" height="510"/>
</g>
<rect x="786" y="1030" width="6" height="357" fill="#b2df8a"/>
<rect x="786" y="1387" width="6" height="121" fill="#1f78b4"/>
<rect x="786" y="1508" width="6" height="32" fill="#a6cee3"/>
<g>
<rect x="808" y="1030" width="24" height="3" fill="#fddb80"/><rect x="808" y="1033" width="24" height="16" fill="#238b45"/><rect x="808" y="1049" width="24" height="4" fill="#d4d4e8"/><rect x="808" y="1053" width="24" height="3" fill="#f58f45"/><rect x="808" y="1056" width="24" height="4" fill="#fddb80"/><rect x="808" y="1060" width="24" height="4" fill="#238b45"/><rect x="808" y="1064" width="24" height="4" fill="#d4d4e8"/><rect x="808" y="1068" width="24" height="7" fill="#fddb80"/><rect x="808" y="1075" width="24" height="8" fill="#f58f45"/><rect x="808" y="1083" width="24" height="4" fill="#d4d4e8"/><rect x="808" y="1087" width="24" height="4" fill="#238b45"/><rect x="808" y="1091" width="24" height="4" fill="#f58f45"/><rect x="808" y="1095" width="24" height="4" fill="#fddb80"/><rect x="808" y="1099" width="24" height="11" fill="#238b45"/><rect x="808" y="1110" width="24" height="4" fill="#f58f45"/><rect x="808" y="1114" width="24" height="5" fill="#238b45"/><rect x="808" y="1119" width="24" height="5" fill="#b31b20"/><rect x="808" y="1124" width="24" height="6" fill="#d4d4e8"/><rect x="808" y="1130" width="24" height="7" fill="#f58f45"/><rect x="808" y="1137" width="24" height="3" fill="#238b45"/><rect x="808" y="1140" width="24" height="7" fill="#d4d4e8"/><rect x="808" y="1147" width="24" height="7" fill="#f58f45"/><rect x="808" y="1154" width="24" height="7" fill="#d4d4e8"/><rect x="808" y="1161" width="24" height="4" fill="#238b45"/><rect x="808" y="1165" width="24" height="7" fill="#fddb80"/><rect x="808" y="1172" width="24" height="8" fill="#238b45"/><rect x="808" y="1180" width="24" height="7" fill="#f58f45"/><rect x="808" y="1187" width="24" height="7" fill="#d4d4e8"/><rect x="808" y="1194" width="24" height="6" fill="#238b45"/><rect x="808" y="1200" width="24" height="7" fill="#fddb80"/><rect x="808" y="1207" width="24" height="5" fill="#d4d4e8"/><rect x="808" y="1212" width="24" height="8" fill="#f58f45"/><rect x="808" y="1220" width="24" height="4" fill="#238b45"/><rect x="808" y="1224" width="24" height="6" fill="#fddb80"/><rect x="808" y="1230" width="24" height="8" fill="#d4d4e8"/><rect x="808" y="1238" width="24" height="10" fill="#f58f45"/><rect x="808" y="1248" width="24" height="8" fill="#fddb80"/><rect x="808" y="1256" width="24" height="9" fill="#d4d4e8"/><rect x="808" y="1265" width="24" height="10" fill="#f58f45"/><rect x="808" y="1275" width="24" height="7" fill="#d4d4e8"/><rect x="808" y="1282" width="24" height="8" fill="#fddb80"/><rect x="808" y="1290" width="24" height="10" fill="#f58f45"/><rect x="808" y="1300" width="24" height="10" fill="#d4d4e8"/><rect x="808" y="1310" width="24" height="10" fill="#fddb80"/><rect x="808" y="1320" width="24" height="10" fill="#f58f45"/><rect x="808" y="1330" width="24" height="15" fill="#d4d4e8"/><rect x="808" y="1345" width="24" height="42" fill="#fddb80"/>
<rect x="808" y="1387" width="24" height="153" fill="#ef6a4c"/>
<rect x="808" y="1387" width="24" height="110" fill="url(#rs)"/>
<rect x="808" y="1520" width="24" height="3" fill="#b31b20"/>
</g>
<rect x="778" y="1030" width="8" height="357" fill="url(#lvG)"/>
<rect x="774" y="1387" width="12" height="121" fill="url(#lvB)"/>
<rect x="752" y="1508" width="34" height="32" fill="url(#lvK)"/>
<g stroke-width=".8" fill="none">
<path d="M778,1030V1387" stroke="#a6d67a"/>
<path d="M774,1387V1508" stroke="#3a8cc8"/>
<path d="M768,1200H778M768,1448H774" stroke="#a6d67a"/>
<path d="M768,1200V1448" stroke="#a6d67a"/>
<path d="M752,1300H768M752,1300V1540M760,1300V1510" stroke="#333"/>
</g>
<g font-size="14" fill="#111"><text x="793" y="1215">B</text><text x="793" y="1450">A</text><text x="793" y="1530">0</text></g>
<text x="750" y="1553" font-size="13" fill="#111">Cluster</text>
<text x="796" y="1564" font-size="13" fill="#111">Sample</text>
<g font-size="7" fill="#222" text-anchor="middle">
<text x="846" y="1551">1</text><text x="866" y="1551">2</text><text x="887" y="1551">3</text><text x="905" y="1551">4</text><text x="922" y="1551">5</text><text x="939" y="1551">6</text><text x="954" y="1551">7</text><text x="968" y="1551">8</text><text x="980" y="1551">9</text><text x="993" y="1551">10</text><text x="1004" y="1551">11</text><text x="1017" y="1551">12</text><text x="1029" y="1551">13</text><text x="1037" y="1551">14</text><text x="1045" y="1551">15</text><text x="1057" y="1551">17</text><text x="1071" y="1551">19</text><text x="1081" y="1551">21</text><text x="1097" y="1551">X</text><text x="1105" y="1551">Y</text>
<text x="1050" y="1560">16</text><text x="1066" y="1560">18</text><text x="1077" y="1560">20</text><text x="1085" y="1560">22</text>
</g>
</svg>
</body></html>
